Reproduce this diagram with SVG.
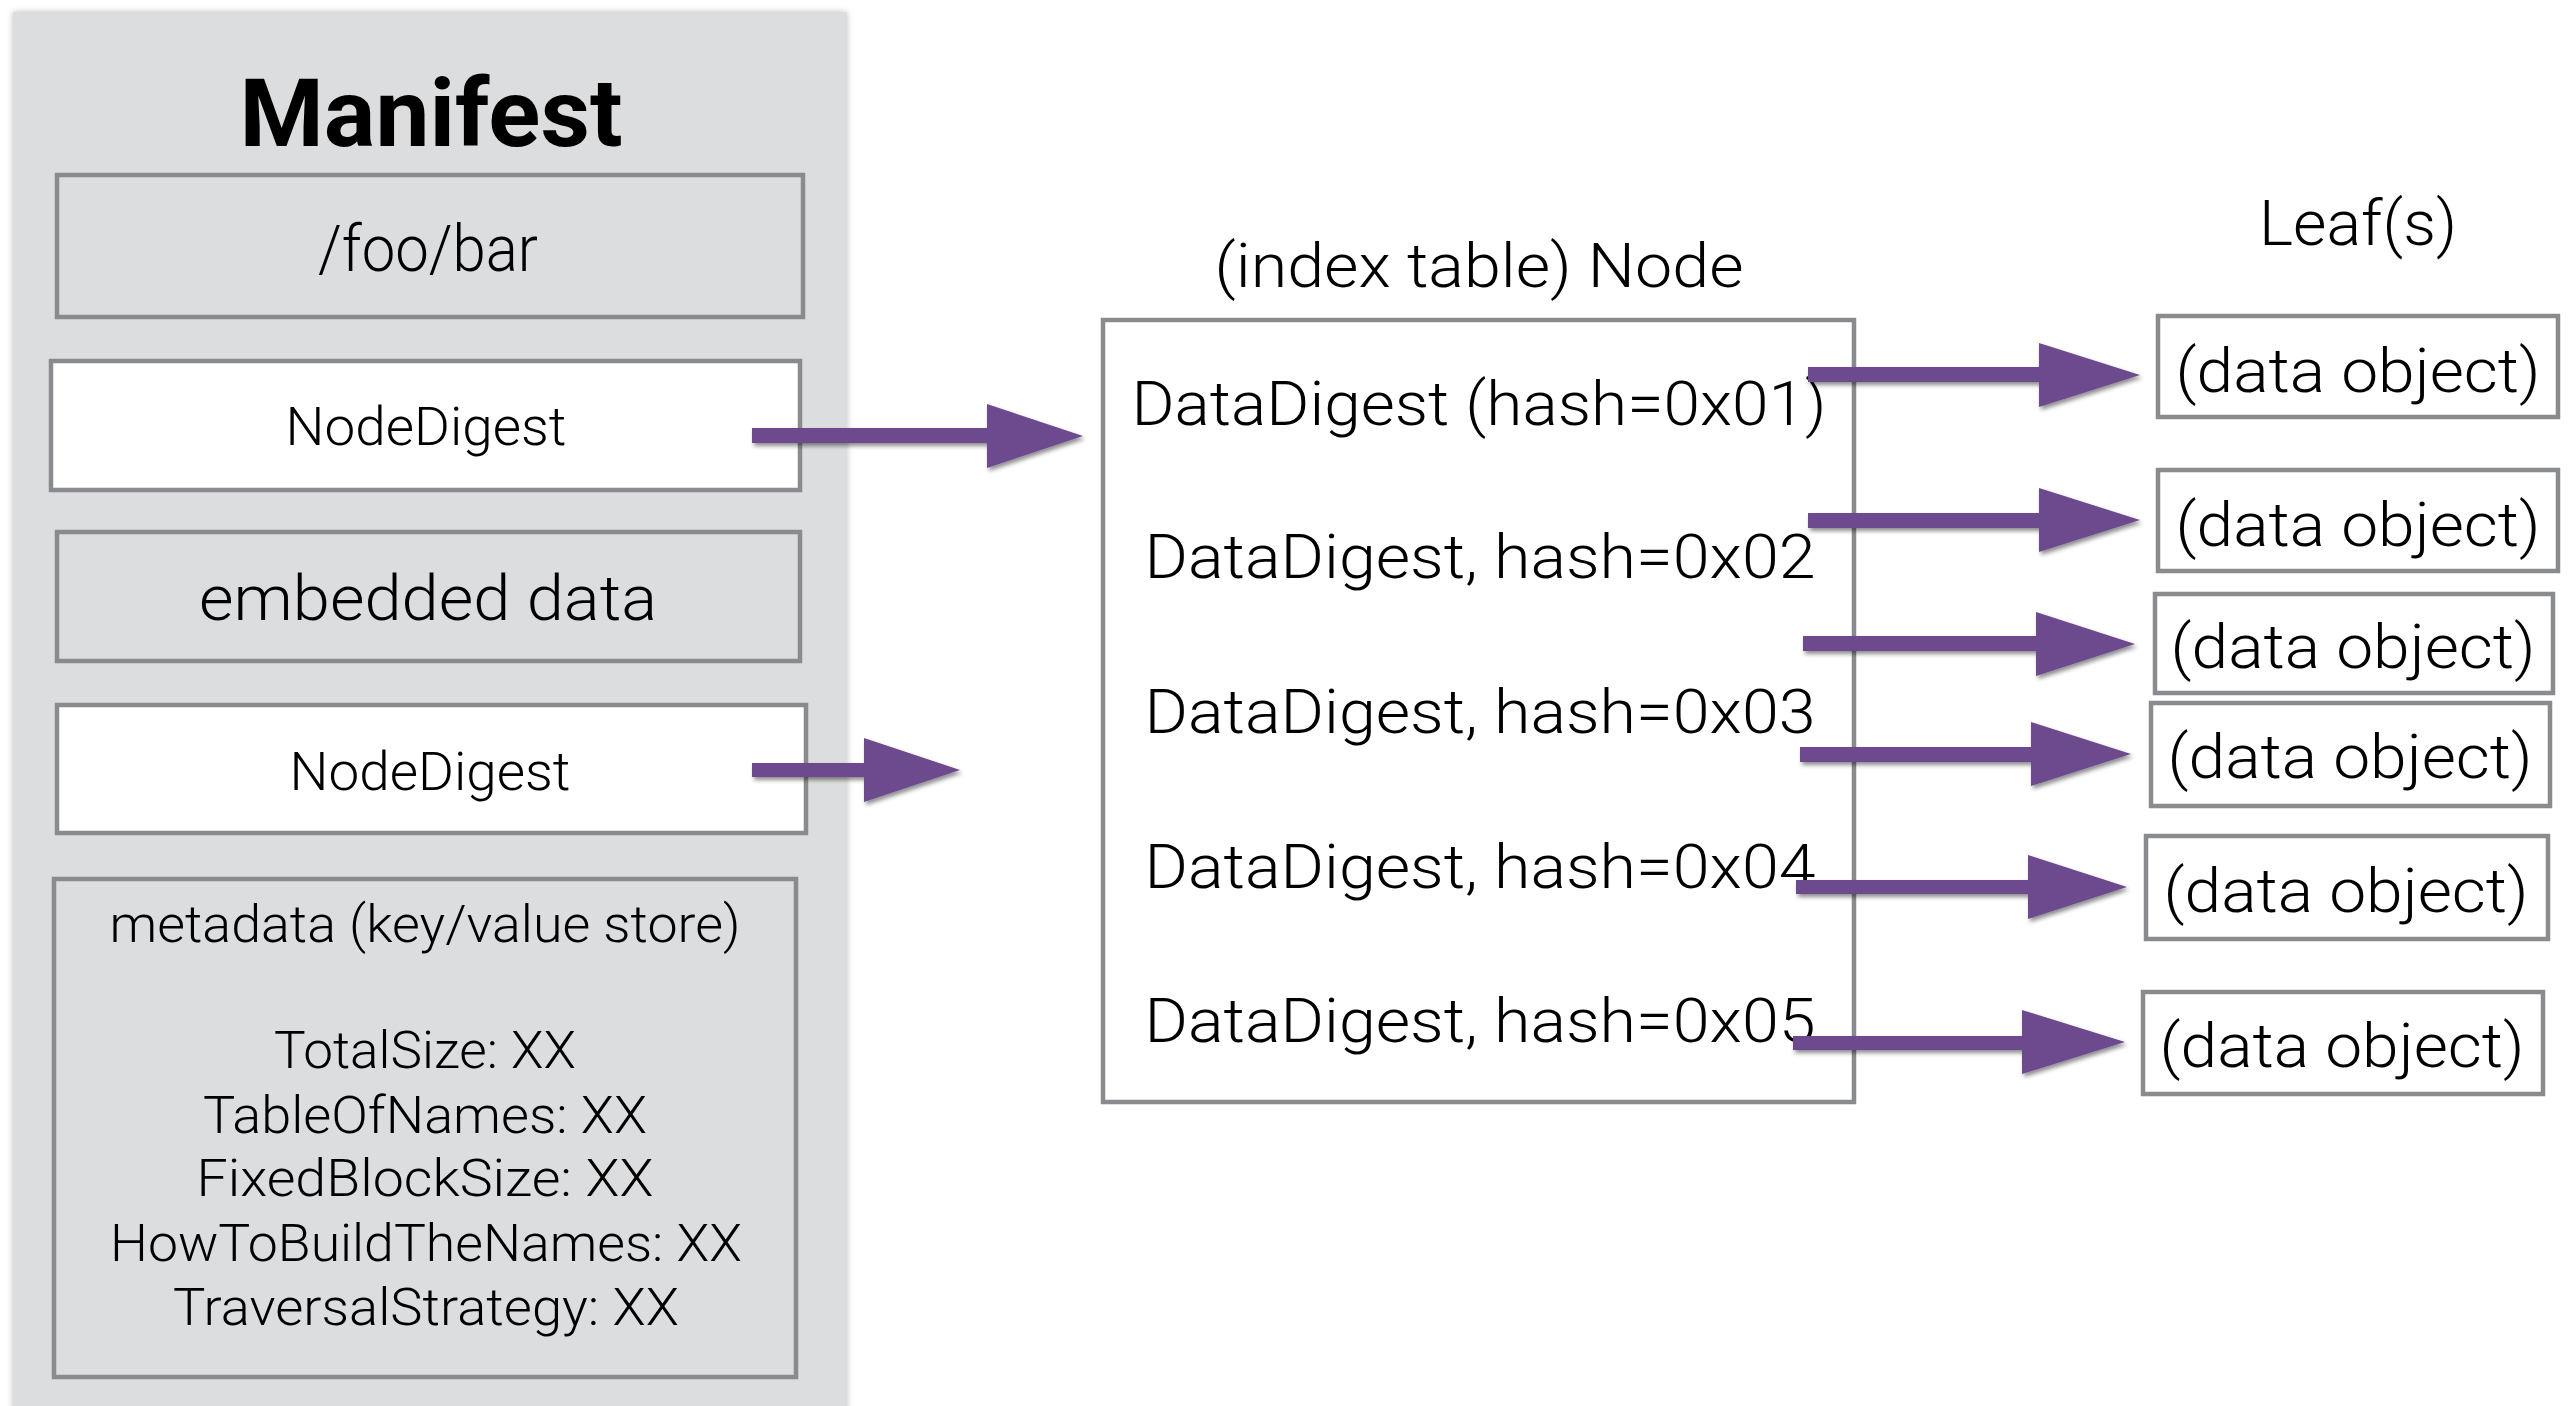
<svg xmlns="http://www.w3.org/2000/svg" width="2575" height="1406" viewBox="0 0 2575 1406">
  <defs>
    <filter id="arrowShadow" x="-10%" y="-40%" width="120%" height="180%">
      <feDropShadow dx="2" dy="3" stdDeviation="2" flood-color="#000" flood-opacity="0.45"/>
    </filter>
    <filter id="panelShadow" x="-5%" y="-5%" width="110%" height="110%">
      <feDropShadow dx="0" dy="0" stdDeviation="3" flood-color="#000" flood-opacity="0.25"/>
    </filter>
  </defs>
  <style>
    .panel { fill: #dcdddf; }
    .box { fill: none; stroke: #898b8f; stroke-width: 4.5; }
    .box-white { fill: #ffffff; stroke: #898b8f; stroke-width: 4.5; }
    .lbl { font-family: Roboto, "Liberation Sans", sans-serif; font-weight: 300; fill: #000; text-anchor: middle; }
    .title { font-family: Roboto, "Liberation Sans", sans-serif; font-weight: 700; fill: #000; text-anchor: middle; }
    .arrow { fill: #6d4a8d; filter: url(#arrowShadow); }
  </style>

  <rect width="2575" height="1406" fill="#ffffff"/>

  <!-- Manifest panel -->
  <g id="manifest">
    <rect class="panel" x="13" y="12" width="834" height="1420" filter="url(#panelShadow)"/>
    <text class="title" x="431" y="146" font-size="95" textLength="383" lengthAdjust="spacingAndGlyphs">Manifest</text>
  </g>

  <g id="name-field">
    <rect class="box" x="57" y="175" width="746" height="142"/>
    <text class="lbl" x="428" y="271" font-size="64" textLength="220" lengthAdjust="spacingAndGlyphs">/foo/bar</text>
  </g>

  <g id="node-digest-1">
    <rect class="box-white" x="51" y="361" width="749" height="129"/>
    <text class="lbl" x="426" y="445" font-size="53" textLength="281" lengthAdjust="spacingAndGlyphs">NodeDigest</text>
  </g>

  <g id="embedded-data">
    <rect class="box" x="57" y="532" width="743" height="129"/>
    <text class="lbl" x="428" y="620" font-size="63" textLength="458" lengthAdjust="spacingAndGlyphs">embedded data</text>
  </g>

  <g id="node-digest-2">
    <rect class="box-white" x="57" y="705" width="749" height="128"/>
    <text class="lbl" x="430" y="790" font-size="53" textLength="281" lengthAdjust="spacingAndGlyphs">NodeDigest</text>
  </g>

  <g id="metadata">
    <rect class="box" x="54" y="879" width="742" height="498"/>
    <text class="lbl" x="425" y="942" font-size="52" textLength="631" lengthAdjust="spacingAndGlyphs">metadata (key/value store)</text>
    <text class="lbl" x="425" y="1068" font-size="52" textLength="302" lengthAdjust="spacingAndGlyphs">TotalSize: XX</text>
    <text class="lbl" x="425" y="1133" font-size="52" textLength="444" lengthAdjust="spacingAndGlyphs">TableOfNames: XX</text>
    <text class="lbl" x="425" y="1196" font-size="52" textLength="457" lengthAdjust="spacingAndGlyphs">FixedBlockSize: XX</text>
    <text class="lbl" x="426" y="1261" font-size="52" textLength="632" lengthAdjust="spacingAndGlyphs">HowToBuildTheNames: XX</text>
    <text class="lbl" x="426" y="1325" font-size="52" textLength="506" lengthAdjust="spacingAndGlyphs">TraversalStrategy: XX</text>
  </g>

  <!-- Index table node -->
  <g id="index-node">
    <text class="lbl" x="1479" y="287" font-size="62" textLength="529" lengthAdjust="spacingAndGlyphs">(index table) Node</text>
    <rect class="box-white" x="1103" y="320" width="751" height="782"/>
    <text class="lbl" x="1479" y="425" font-size="62" textLength="695" lengthAdjust="spacingAndGlyphs">DataDigest (hash=0x01)</text>
    <text class="lbl" x="1480" y="578" font-size="62" textLength="671" lengthAdjust="spacingAndGlyphs">DataDigest, hash=0x02</text>
    <text class="lbl" x="1480" y="733" font-size="62" textLength="671" lengthAdjust="spacingAndGlyphs">DataDigest, hash=0x03</text>
    <text class="lbl" x="1480" y="888" font-size="62" textLength="671" lengthAdjust="spacingAndGlyphs">DataDigest, hash=0x04</text>
    <text class="lbl" x="1480" y="1042" font-size="62" textLength="671" lengthAdjust="spacingAndGlyphs">DataDigest, hash=0x05</text>
  </g>

  <!-- Leaves -->
  <g id="leaves-label">
    <text class="lbl" x="2358" y="245" font-size="63" textLength="198" lengthAdjust="spacingAndGlyphs">Leaf(s)</text>
  </g>
  <g id="leaf-1">
    <rect class="box-white" x="2158" y="316" width="400" height="101"/>
    <text class="lbl" x="2358" y="392" font-size="62" textLength="365" lengthAdjust="spacingAndGlyphs">(data object)</text>
  </g>
  <g id="leaf-2">
    <rect class="box-white" x="2158" y="470" width="400" height="101"/>
    <text class="lbl" x="2358" y="546" font-size="62" textLength="365" lengthAdjust="spacingAndGlyphs">(data object)</text>
  </g>
  <g id="leaf-3">
    <rect class="box-white" x="2155" y="594" width="398" height="99"/>
    <text class="lbl" x="2353" y="668" font-size="62" textLength="365" lengthAdjust="spacingAndGlyphs">(data object)</text>
  </g>
  <g id="leaf-4">
    <rect class="box-white" x="2151" y="703" width="399" height="103"/>
    <text class="lbl" x="2350" y="778" font-size="62" textLength="365" lengthAdjust="spacingAndGlyphs">(data object)</text>
  </g>
  <g id="leaf-5">
    <rect class="box-white" x="2146" y="836" width="402" height="103"/>
    <text class="lbl" x="2346" y="912" font-size="62" textLength="365" lengthAdjust="spacingAndGlyphs">(data object)</text>
  </g>
  <g id="leaf-6">
    <rect class="box-white" x="2143" y="992" width="400" height="102"/>
    <text class="lbl" x="2342" y="1067" font-size="62" textLength="365" lengthAdjust="spacingAndGlyphs">(data object)</text>
  </g>

  <!-- Block arrows: shaft 15 px thick, head 64 px tall -->
  <g id="connectors">
    <path class="arrow" d="M752,428 H987 V404 L1083,436 L987,468 V443 H752 Z"/>
    <path class="arrow" d="M752,763 H864 V738 L960,770 L864,802 V777 H752 Z"/>
    <path class="arrow" d="M1808,367 H2039 V343 L2140,375 L2039,407 V382 H1808 Z"/>
    <path class="arrow" d="M1808,513 H2039 V488 L2140,520 L2039,552 V528 H1808 Z"/>
    <path class="arrow" d="M1803,636 H2036 V612 L2135,644 L2036,676 V651 H1803 Z"/>
    <path class="arrow" d="M1800,747 H2031 V722 L2131,754 L2031,786 V762 H1800 Z"/>
    <path class="arrow" d="M1796,880 H2028 V855 L2127,887 L2028,919 V894 H1796 Z"/>
    <path class="arrow" d="M1793,1036 H2022 V1010 L2125,1042 L2022,1074 V1050 H1793 Z"/>
  </g>
</svg>
